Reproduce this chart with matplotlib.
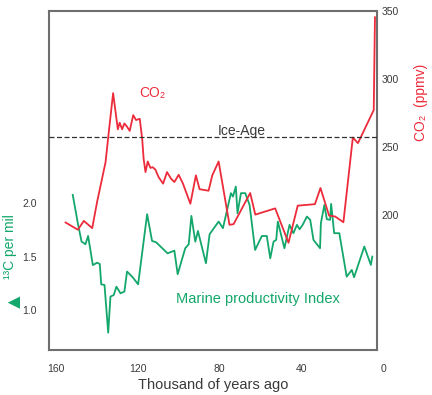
import matplotlib
matplotlib.use('Agg')
import matplotlib.pyplot as plt
import matplotlib.transforms as mtransforms

plt.rcParams['font.family'] = ['Liberation Sans', 'DejaVu Sans']

# CO2 record (thousand years ago, ppmv)
co2_age = [155.1, 149.1, 146.2, 142.1, 139.7, 135.6, 134.2, 131.9, 129.6, 128.7,
           127.5, 126.4, 125.1, 123.8, 122.1, 120.7, 118.9, 117.7, 117.0, 116.1,
           115.0, 113.7, 112.6, 111.3, 109.7, 107.5, 105.6, 103.6, 102.0, 99.9,
           97.8, 94.2, 91.5, 89.7, 85.3, 83.5, 80.4, 75.1, 73.1, 65.0,
           62.5, 52.8, 46.3, 41.8, 33.4, 30.7, 26.5, 23.5, 19.5, 14.9,
           12.4, 4.7, 4.1]
co2_ppmv = [194.4, 189.1, 195.6, 190.3, 209.7, 238.7, 258.4, 289.6, 263.0, 267.8,
            263.0, 267.3, 264.9, 261.8, 273.4, 269.8, 270.7, 255.7, 241.1, 231.5,
            239.3, 234.6, 235.1, 233.4, 227.8, 223.0, 231.5, 226.6, 224.2, 229.5,
            223.0, 208.2, 229.1, 218.9, 217.8, 229.1, 239.3, 192.7, 193.2, 216.1,
            200.2, 204.8, 179.5, 206.8, 207.9, 219.8, 199.5, 198.8, 194.6, 256.9,
            252.8, 277.1, 345.4]

# delta 13C marine productivity index (per mil)
d13c_age = [151.6, 149.1, 147.3, 145.4, 144.1, 141.8, 139.7, 138.4, 137.7, 136.1,
            134.3, 133.2, 131.6, 130.3, 128.3, 126.4, 125.1, 122.2, 119.7, 115.3,
            112.9, 110.9, 105.3, 102.0, 100.4, 96.7, 95.0, 93.7, 91.8, 90.5,
            86.6, 84.8, 80.4, 78.3, 74.4, 73.4, 72.0, 71.2, 69.5, 67.4,
            65.3, 62.6, 59.3, 56.9, 55.2, 53.6, 52.3, 51.5, 48.3, 45.8,
            43.9, 42.2, 40.9, 39.4, 37.3, 35.7, 34.1, 30.9, 30.5, 28.8,
            27.6, 26.0, 25.5, 24.0, 21.5, 17.9, 15.4, 14.3, 9.3, 6.1, 5.4]
d13c_val = [2.078, 1.81, 1.64, 1.616, 1.693, 1.42, 1.443, 1.43, 1.24, 1.234,
            0.787, 1.125, 1.14, 1.218, 1.156, 1.172, 1.36, 1.303, 1.24, 1.897,
            1.647, 1.634, 1.53, 1.556, 1.335, 1.578, 1.616, 1.881, 1.64, 1.74,
            1.438, 1.71, 1.828, 1.766, 2.094, 2.062, 2.156, 1.906, 2.094, 2.094,
            1.984, 1.562, 1.693, 1.693, 1.484, 1.64, 1.656, 1.828, 1.578, 1.797,
            1.719, 1.797, 1.756, 1.797, 1.875, 1.844, 1.656, 1.578, 1.812, 1.984,
            1.85, 1.844, 1.994, 1.719, 1.719, 1.312, 1.375, 1.306, 1.594, 1.422, 1.5]

ice_age_level = 257
x_ticks = [160, 120, 80, 40]
left_ticks = [1.0, 1.5, 2.0]
right_ticks = [200, 250, 300, 350]

red = '#ec2b3b'
green = '#13a76b'
grey = '#6e6e6e'
txt = '#3a3a3a'
fam = ['Liberation Sans', 'DejaVu Sans']

fig = plt.figure(figsize=(4.32, 3.95), dpi=100)
ax = fig.add_axes([0.1134, 0.1139, 0.7593, 0.8582])
ax2 = ax.twinx()

ax.plot(d13c_age, d13c_val, color=green, lw=1.3)
ax2.plot(co2_age, co2_ppmv, color=red, lw=1.3)
ax2.axhline(ice_age_level, color='#333333', lw=0.9, ls=(0, (4, 2)))

ax.set_xlim(163.2, 3.1)
ax.set_ylim(0.625, 3.80)
ax2.set_ylim(100.6, 347)

ax.set_xticks(x_ticks)
ax.set_yticks(left_ticks)
ax2.set_yticks(right_ticks)
ax.set_yticklabels(['%.1f' % v for v in left_ticks])

ax.tick_params(axis='x', length=0, pad=10, labelsize=7.5, labelcolor=txt)
ax.tick_params(axis='y', length=0, pad=8.5, labelsize=7.5, labelcolor=txt)
ax2.tick_params(axis='y', length=0, pad=3, labelsize=7.5, labelcolor=txt)

# the "0" label sits just past the right edge of the frame
trans = mtransforms.blended_transform_factory(ax.transData, ax.transAxes)
ax.text(0, -0.055, '0', transform=trans, ha='center', va='center',
        fontsize=7.5, color=txt, clip_on=False)

for s in ax.spines.values():
    s.set_color(grey)
    s.set_linewidth(1.5)
for s in ax2.spines.values():
    s.set_visible(False)

ax.set_xlabel('Thousand of years ago', fontsize=10.5, color=txt, labelpad=3)

# left label: big filled triangle plus text
ax.set_ylabel('¹³C per mil', fontsize=10, color=green, family=fam)
ax.yaxis.set_label_coords(-0.098, 0.305)
ax.text(-0.115, 0.153, '▲', transform=ax.transAxes, rotation=90,
        fontsize=15, color=green, ha='center', va='center', family=fam)

ax2.set_ylabel('CO₂  (ppmv)', fontsize=10, color=red, family=fam)
ax2.yaxis.set_label_coords(1.114, 0.73)

ax2.text(119, 290, 'CO₂', color=red, fontsize=10, ha='left', va='center',
         family=fam)
ax2.text(69, ice_age_level + 5, 'Ice-Age', color=txt, fontsize=10,
         ha='center', va='center')
ax.text(61, 1.1, 'Marine productivity Index', color=green, fontsize=10.5,
        ha='center', va='center')

fig.savefig('out.png', dpi=100)
